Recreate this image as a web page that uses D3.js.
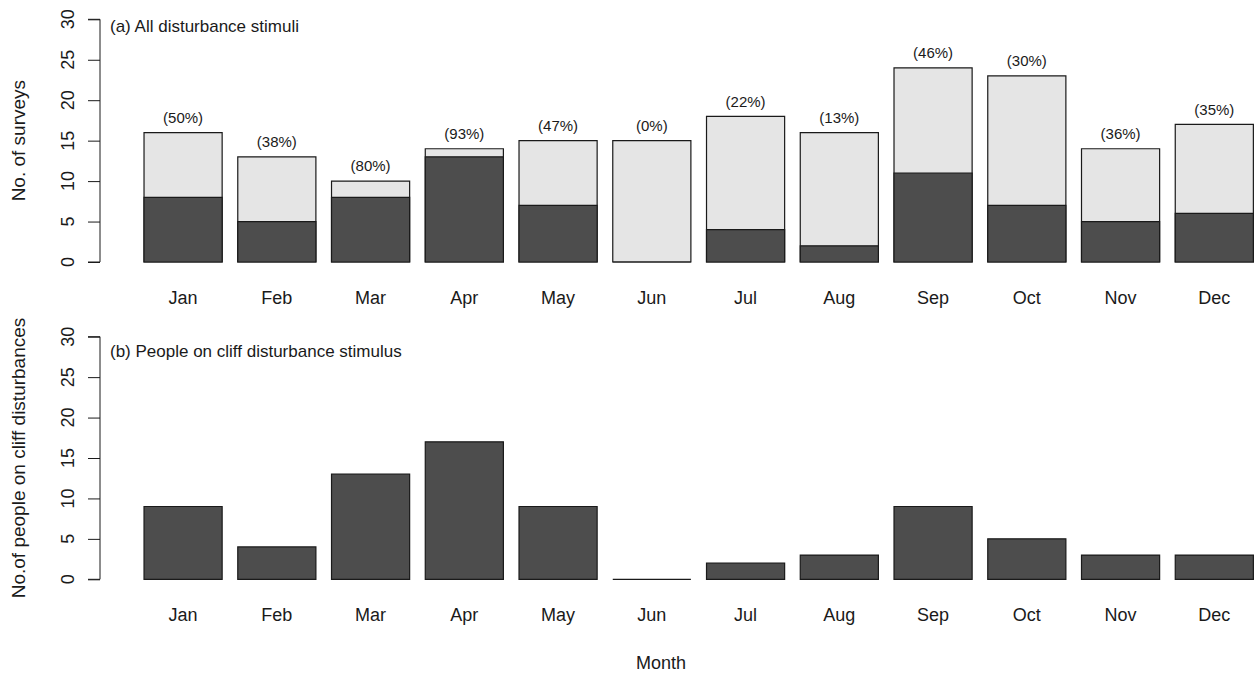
<!DOCTYPE html>
<html><head><meta charset="utf-8">
<script src="https://cdn.jsdelivr.net/npm/d3@7/dist/d3.min.js"></script>
<style>body{margin:0;background:#fff;} text{font-family:"Liberation Sans",Arial,sans-serif;fill:#1a1a1a;}</style>
</head><body>
<svg id="c" width="1256" height="675"></svg>
<script>
const months = ["Jan","Feb","Mar","Apr","May","Jun","Jul","Aug","Sep","Oct","Nov","Dec"];
const totalSurveys = [16,13,10,14,15,15,18,16,24,23,14,17];
const disturbedSurveys = [8,5,8,13,7,0,4,2,11,7,5,6];
const pctLabels = ["(50%)","(38%)","(80%)","(93%)","(47%)","(0%)","(22%)","(13%)","(46%)","(30%)","(36%)","(35%)"];
const peopleOnCliff = [9,4,13,17,9,0,2,3,9,5,3,3];
const yTicks = [0,5,10,15,20,25,30];

const svg = d3.select("#c");
const dark = "#4d4d4d", light = "#e5e5e5", edge = "#1a1a1a";

const x = d3.scaleBand().domain(months).range([128.4, 1269]).paddingInner(1/6).paddingOuter(1/6);

function panel(y0, y30, title, yTitle, labelY) {
  const y = d3.scaleLinear().domain([0,30]).range([y0, y30]);
  const g = svg.append("g");
  const ax = g.append("g").attr("transform","translate(100,0)")
    .call(d3.axisLeft(y).tickValues(yTicks).tickSize(12).tickPadding(0).tickFormat(""));
  ax.select(".domain").attr("stroke","#1a1a1a").attr("d", `M-12,${y(0)}H0V${y(30)}H-12`);
  ax.selectAll(".tick line").attr("stroke","#1a1a1a");
  g.selectAll("text.yt").data(yTicks).enter().append("text")
    .attr("transform", d => `translate(74,${y(d)}) rotate(-90)`)
    .attr("text-anchor","middle").style("font-size","18px").text(d => d);
  g.append("text").attr("transform", `translate(25,${(y(0)+y(30))/2}) rotate(-90)`)
    .attr("text-anchor","middle").style("font-size","19px").text(yTitle);
  g.append("text").attr("x", 110).attr("y", labelY).attr("dominant-baseline","middle")
    .style("font-size","17px").text(title);
  g.selectAll("text.mo").data(months).enter().append("text")
    .attr("x", d => x(d) + x.bandwidth()/2).attr("y", y(0) + 42)
    .attr("text-anchor","middle").style("font-size","18px").text(d => d);
  return {g, y};
}

function bars(g, y, vals, fill) {
  g.selectAll(null).data(months).enter().append("path")
    .attr("d", (d,i) => {
      const x0 = x(d), x1 = x(d) + x.bandwidth(), yb = y(0), yt = y(vals[i]);
      return `M${x0},${yb}V${yt}H${x1}V${yb}Z`;
    })
    .attr("fill", fill).attr("stroke", edge).attr("stroke-width", 1.2);
}

const a = panel(262, 19.3, "(a) All disturbance stimuli", "No. of surveys", 28);
bars(a.g, a.y, totalSurveys, light);
bars(a.g, a.y, disturbedSurveys, dark);
a.g.selectAll("text.pct").data(months).enter().append("text")
  .attr("x", d => x(d) + x.bandwidth()/2).attr("y", (d,i) => a.y(totalSurveys[i] + 1.7))
  .attr("text-anchor","middle").attr("dominant-baseline","middle")
  .style("font-size","15px").text((d,i) => pctLabels[i]);

const b = panel(579.3, 336.7, "(b) People on cliff disturbance stimulus", "No.of people on cliff disturbances", 353);
bars(b.g, b.y, peopleOnCliff, dark);

svg.append("text").attr("x", 661).attr("y", 669).attr("text-anchor","middle")
  .style("font-size","18px").text("Month");
</script>
</body></html>
